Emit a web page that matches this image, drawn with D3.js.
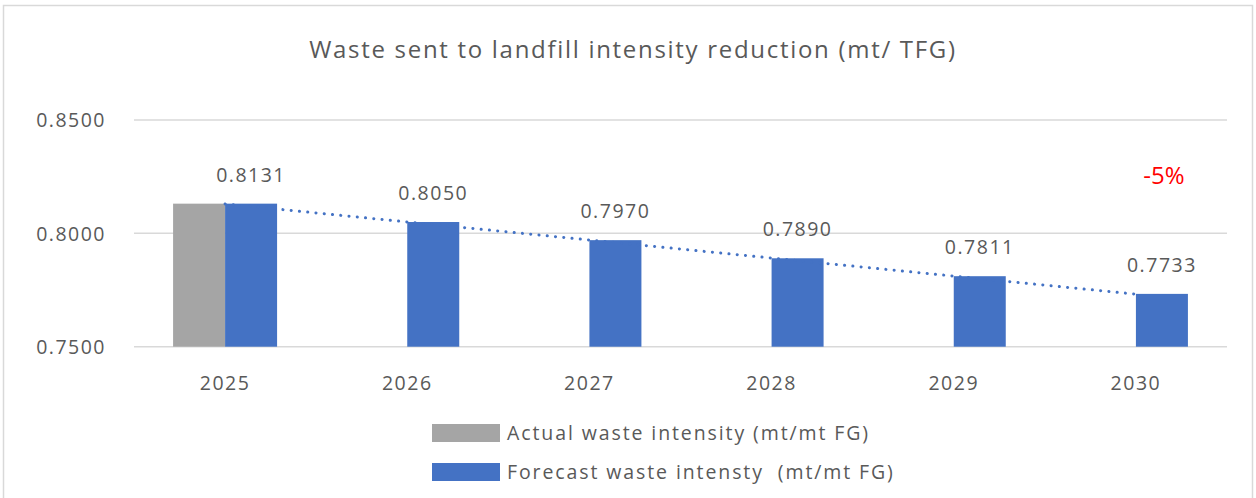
<!DOCTYPE html>
<html><head><meta charset="utf-8">
<script src="https://cdn.jsdelivr.net/npm/d3@7"></script>
<style>
html,body{margin:0;padding:0;background:#fff;}
svg text{font-family:"Open Sans","Lato",sans-serif;}
</style></head>
<body>
<svg id="chart" width="1256" height="498"></svg>
<script>
const categories = ["2025","2026","2027","2028","2029","2030"];
const actualValues = [0.8131, null, null, null, null, null];
const forecastValues = [0.8131, 0.8050, 0.7970, 0.7890, 0.7811, 0.7733];
const yTicks = [0.75, 0.80, 0.85];
const seriesNames = ["Actual waste intensity (mt/mt FG)", "Forecast waste intensty  (mt/mt FG)"];
const titleText = "Waste sent to landfill intensity reduction (mt/ TFG)";
const changeText = "-5%";

const svg = d3.select("#chart");
const W = 1256, H = 498;
const grey = "#A5A5A5", blue = "#4472C4", textCol = "#595959";
const fs = 19.5, ls = 1.5;

// outer border
svg.append("rect").attr("x",3.5).attr("y",5.5).attr("width",1249).attr("height",H)
  .attr("fill","#fff").attr("stroke","#d9d9d9").attr("stroke-width",1.5);

const m = {left:134, right:1227, top:120, bottom:346.7};
const x = d3.scaleBand().domain(categories).range([m.left, m.right]).paddingInner(0).paddingOuter(0);
const y = d3.scaleLinear().domain([0.75, 0.85]).range([m.bottom, m.top]);
const barW = 52;

// title
svg.append("text").attr("x",633).attr("y",58).attr("text-anchor","middle")
  .attr("font-size",24).attr("letter-spacing",1.7).attr("fill",textCol).text(titleText);

// gridlines
svg.append("g").selectAll("line").data(yTicks).join("line")
  .attr("x1",m.left).attr("x2",m.right)
  .attr("y1",d=>y(d)).attr("y2",d=>y(d))
  .attr("stroke","#d9d9d9").attr("stroke-width",1.5);

// y axis
const yAxis = d3.axisLeft(y).tickValues(yTicks).tickFormat(d3.format(".4f")).tickSize(0).tickPadding(0);
const yg = svg.append("g").attr("transform",`translate(106,0)`).call(yAxis);
yg.select(".domain").remove();
yg.selectAll("text").attr("font-size",fs).attr("letter-spacing",ls).attr("fill",textCol).attr("dy","0.35em");

// x axis
const xAxis = d3.axisBottom(x).tickSize(0).tickPadding(0);
const xg = svg.append("g").attr("transform",`translate(0,${m.bottom})`).call(xAxis);
xg.select(".domain").remove();
xg.selectAll("text").attr("font-size",fs).attr("letter-spacing",ls).attr("fill",textCol).attr("dy","0").attr("y",43);

const cx = c => x(c) + x.bandwidth()/2;

// actual bars
svg.append("g").selectAll("rect").data(categories.map((c,i)=>({c,v:actualValues[i]})).filter(d=>d.v!=null))
  .join("rect").attr("x",d=>cx(d.c)-barW).attr("width",barW)
  .attr("y",d=>y(d.v)).attr("height",d=>y(0.75)-y(d.v)).attr("fill",grey);

// forecast bars
svg.append("g").selectAll("rect").data(categories.map((c,i)=>({c,v:forecastValues[i]})))
  .join("rect").attr("x",d=>cx(d.c)).attr("width",barW)
  .attr("y",d=>y(d.v)).attr("height",d=>y(0.75)-y(d.v)).attr("fill",blue);

// linear trendline of forecast
const n = forecastValues.length;
const xs = d3.range(n);
const mx = d3.mean(xs), my = d3.mean(forecastValues);
const slope = d3.sum(xs.map((xi,i)=>(xi-mx)*(forecastValues[i]-my))) / d3.sum(xs.map(xi=>(xi-mx)**2));
const intercept = my - slope*mx;
const trend = [0, n-1].map(i=>({c:categories[i], v:intercept+slope*i}));
svg.append("path").datum(trend)
  .attr("d", d3.line().x(d=>cx(d.c)).y(d=>y(d.v)))
  .attr("fill","none").attr("stroke",blue).attr("stroke-width",3)
  .attr("stroke-linecap","round").attr("stroke-dasharray","0.1 8.2");

// data labels
svg.append("g").selectAll("text").data(categories.map((c,i)=>({c,v:forecastValues[i]})))
  .join("text").attr("x",d=>cx(d.c)+barW/2).attr("y",d=>y(d.v)-22)
  .attr("text-anchor","middle").attr("font-size",fs).attr("letter-spacing",ls).attr("fill",textCol)
  .text(d=>d3.format(".4f")(d.v));

// change annotation
svg.append("text").attr("x",1164).attr("y",184).attr("text-anchor","middle")
  .attr("font-size",24).attr("font-weight",500).attr("fill","#FF0000").text(changeText);

// legend
const legend = svg.append("g");
[grey, blue].forEach((col,i)=>{
  const ly = 424 + i*39;
  legend.append("rect").attr("x",432).attr("y",ly).attr("width",68).attr("height",18).attr("fill",col);
  legend.append("text").attr("x",507).attr("y",ly+16).attr("font-size",fs).attr("letter-spacing",1.9).attr("fill",textCol)
    .attr("xml:space","preserve").style("white-space","pre").text(seriesNames[i]);
});
</script>
</body></html>
